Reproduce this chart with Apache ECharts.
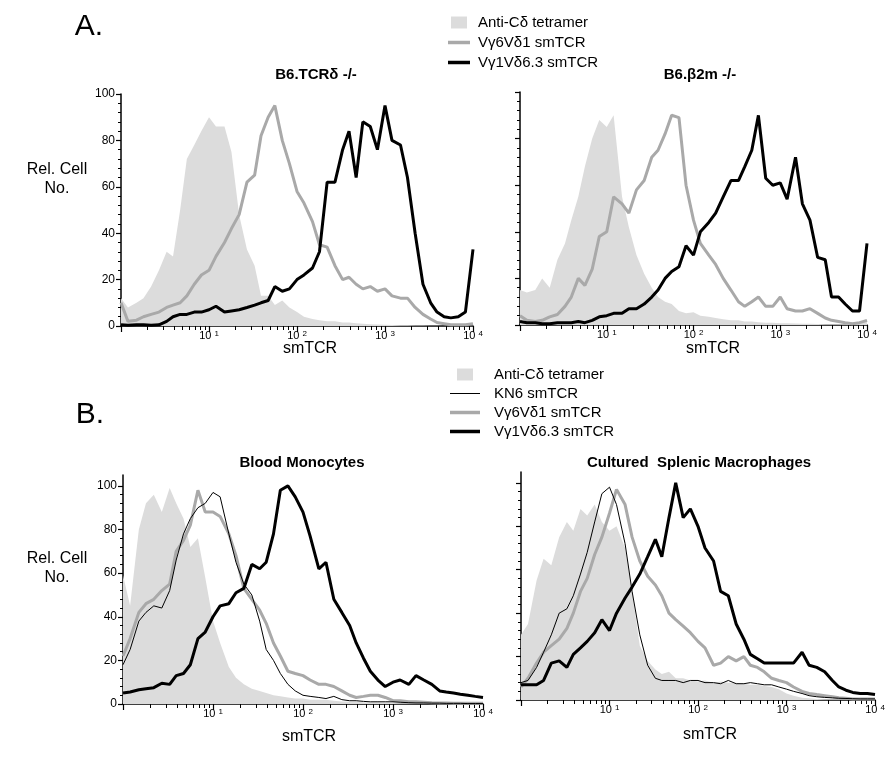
<!DOCTYPE html>
<html>
<head>
<meta charset="utf-8">
<script src="https://cdn.jsdelivr.net/npm/echarts@6/dist/echarts.min.js"></script>
<style>
  html, body { margin: 0; padding: 0; background: #fff; }
  #main { width: 896px; height: 764px; }
</style>
</head>
<body>
<div id="main"></div>
<script>
var myChart = echarts.init(document.getElementById('main'))
var font = 'Liberation Sans, Arial, Helvetica, sans-serif'

// fluorescence channels (smTCR intensity), shared by all histograms
var channels = [1, 1.2, 1.5, 1.8, 2.2, 2.7, 3.3, 3.9, 4.7, 5.6, 6.8, 8.2,
  10, 12, 15, 18, 22, 27, 33, 39, 47, 56, 68, 82,
  100, 120, 150, 180, 220, 270, 330, 390, 470, 560, 680, 820,
  1000, 1200, 1500, 1800, 2200, 2700, 3300, 3900, 4700, 5600, 6800, 8200, 10000]

var xMinorTicks = [2, 3, 4, 5, 6, 7, 8, 9, 20, 30, 40, 50, 60, 70, 80, 90,
  200, 300, 400, 500, 600, 700, 800, 900, 2000, 3000, 4000, 5000, 6000, 7000, 8000, 9000]
var yMajorTicks = [0, 20, 40, 60, 80, 100]
var yMinorTicks = [4, 8, 12, 16, 24, 28, 32, 36, 44, 48, 52, 56, 64, 68, 72, 76, 84, 88, 92, 96]

var TET = 'Anti-Cδ tetramer'
var KN6 = 'KN6 smTCR'
var V6 = 'Vγ6Vδ1 smTCR'
var V1 = 'Vγ1Vδ6.3 smTCR'

// A. B6.TCRδ -/-
var aTcrTetramer = [12, 8, 10, 12, 17, 24, 32, 30, 50, 72, 78, 84,
  90, 86, 86, 75, 48, 33, 26, 13, 13, 9, 11, 8,
  6, 4, 3, 2.5, 2, 2, 1.5, 1.5, 1.2, 1, 0.8, 0.6,
  0.5, 0.4, 0.3, 0.3, 0.2, 0.2, 0.1, 0.1, 0, 0, 0, 0, 0]
var aTcrV6 = [10, 2, 2.5, 4, 5, 6, 8, 9, 10, 13, 18, 22,
  24, 30, 36, 42, 48, 62, 65, 82, 90, 95, 80, 70,
  58, 53, 45, 35, 34, 26, 20, 21, 18, 16, 17, 15,
  16, 13, 12, 12, 8, 5, 3, 1.5, 1, 0.5, 0.5, 0.5, 1]
var aTcrV1 = [0.5, 0.3, 0.5, 0.5, 0.3, 0.5, 2, 4, 5, 5, 6, 6,
  7, 8.5, 6, 6.5, 7, 8, 9, 10, 11, 17, 15, 16,
  20, 22, 25, 32, 62, 62, 76, 84, 64, 88, 86, 76,
  95, 80, 78, 64, 40, 18, 10, 6, 4, 3.5, 4, 6, 33]

// A. B6.β2m -/-
var b2mTetramer = [15, 14, 15, 20, 16, 28, 35, 45, 55, 68, 80, 88,
  85, 90, 55, 42, 30, 22, 16, 12, 10, 9, 6, 5,
  5.5, 4, 3.5, 3, 2.5, 2, 2, 1.5, 1.5, 1.2, 1, 1,
  0.8, 0.7, 0.6, 0.5, 0.5, 0.4, 0.3, 0.3, 0.3, 0.3, 0.5, 1, 2]
var b2mV6 = [4, 2, 1.5, 2, 3.5, 4.5, 8, 12, 20, 17, 24, 38,
  40, 55, 52, 48, 58, 62, 72, 75, 82, 90, 89, 60,
  45, 35, 30, 26, 20, 15, 10, 8, 10, 12, 8, 8,
  12, 7, 6, 6, 7, 5, 3, 2, 1.5, 1, 0.5, 1, 2]
var b2mV1 = [1.5, 1, 1, 0.5, 0.5, 1, 1, 1, 1.5, 1, 2, 3.5,
  4, 5, 5, 7, 7, 9, 12, 15, 20, 23, 25, 34,
  30, 40, 44, 48, 55, 62, 62, 68, 75, 90, 63, 60,
  61, 54, 72, 52, 45, 29, 28, 12, 12, 9, 6, 6, 35]

// B. Blood Monocytes
var monoTetramer = [59, 45, 80, 92, 96, 88, 99, 92, 85, 72, 76, 58,
  38, 28, 17, 12, 9, 7, 6, 5, 4, 3.5, 3, 2.5,
  2.5, 2, 2, 2, 1.5, 1.2, 1, 1, 0.8, 0.7, 0.6, 0.5,
  0.5, 0.4, 0.3, 0.3, 0.3, 0.2, 0.2, 0.2, 0.1, 0.1, 0.1, 0, 0]
var monoKn6 = [18, 25, 38, 42, 45, 44, 52, 66, 78, 85, 90, 92,
  97, 95, 78, 65, 55, 50, 38, 25, 20, 14, 9, 6,
  4, 3.5, 3, 2.5, 3.5, 2, 1.5, 1.5, 1.2, 1, 1, 1,
  1, 0.8, 0.6, 0.5, 0.5, 0.4, 0.4, 0.3, 0.3, 0.3, 0.2, 0.2, 0.2]
var monoV6 = [22, 30, 42, 46, 48, 52, 55, 70, 75, 82, 98, 88,
  88, 86, 78, 68, 53, 48, 43, 37, 28, 22, 15, 14,
  13, 11, 9, 9, 8, 6, 4, 3, 3.5, 4, 4, 3,
  1.5, 1.5, 1, 1, 0.8, 0.6, 0.5, 0.5, 0.4, 0.3, 0.3, 0.3, 0.3]
var monoV1 = [5, 5.5, 6.5, 7, 7.5, 9.5, 9, 13, 14, 18, 30, 33,
  40, 45, 46, 51, 53, 64, 62, 65, 78, 98, 100, 95,
  88, 77, 62, 65, 48, 42, 36, 28, 21, 15, 11, 8,
  10, 11, 9, 13, 11, 9, 6, 5.5, 5, 4.5, 4, 3.5, 3]

// B. Cultured Splenic Macrophages
var macTetramer = [30, 35, 55, 65, 62, 75, 82, 78, 88, 85, 90, 82,
  78, 80, 70, 50, 25, 18, 14, 12, 13, 10, 10, 9,
  8.5, 9, 8, 8.5, 8, 8, 7.5, 7, 7, 6.5, 6, 5,
  3, 2, 1, 0.8, 0.5, 0.4, 0.3, 0.3, 0.2, 0.2, 0.2, 0.1, 0.1]
var macKn6 = [8, 9, 15, 22, 30, 40, 42, 48, 58, 68, 82, 95,
  98, 90, 72, 50, 30, 16, 10, 9, 9, 9, 8, 9,
  9, 8, 8, 7.5, 9, 7.5, 7.5, 8, 7.5, 7, 7, 6,
  5, 4, 3, 2, 1.5, 1.2, 1, 0.8, 0.7, 0.6, 0.5, 0.5, 0.5]
var macV6 = [6, 10, 17, 22, 25, 28, 33, 40, 50, 56, 67, 75,
  86, 97, 90, 75, 64, 57, 53, 48, 40, 37, 34, 31,
  27, 24, 16, 17, 20, 18, 20, 16, 15, 13, 10, 9,
  8, 6, 4, 3, 2.5, 2, 1.5, 1, 0.8, 0.5, 0.5, 0.5, 0.5]
var macV1 = [7, 7, 7, 9, 17, 18, 15, 21, 24, 27, 31, 37,
  32, 40, 47, 52, 58, 66, 74, 66, 84, 100, 84, 88,
  80, 70, 64, 50, 48, 35, 28, 21, 19, 17, 17, 17,
  17, 17, 22, 16, 15, 13, 9, 6, 4.5, 3.5, 3, 3, 2.5]

var panels = [
  { grid: { left: 121, top: 94, width: 352, height: 232 }, ymax: 100, labels: true,
    data: [[TET, aTcrTetramer], [V6, aTcrV6], [V1, aTcrV1]] },
  { grid: { left: 520, top: 92, width: 347, height: 233 }, ymax: 100, labels: false,
    data: [[TET, b2mTetramer], [V6, b2mV6], [V1, b2mV1]] },
  { grid: { left: 123, top: 475, width: 360, height: 229 }, ymax: 105, labels: true,
    data: [[TET, monoTetramer], [V6, monoV6], [KN6, monoKn6], [V1, monoV1]] },
  { grid: { left: 521, top: 472, width: 354, height: 228 }, ymax: 105, labels: false,
    data: [[TET, macTetramer], [V6, macV6], [KN6, macKn6], [V1, macV1]] },
]

var styles = {}
styles[TET] = { color: '#dcdcdc', width: 0, area: true }
styles[V6] = { color: '#a9a9a9', width: 3 }
styles[KN6] = { color: '#000', width: 1 }
styles[V1] = { color: '#000', width: 3 }

var grids = []
var xAxes = []
var yAxes = []
var series = []
var axisLineStyle = { color: '#000', width: 1.5 }

panels.forEach(function (p, i) {
  grids.push(Object.assign({ containLabel: false, outerBoundsMode: 'none' }, p.grid))
  // main log axis
  xAxes.push({
    type: 'log', logBase: 10, min: 1, max: 10000, gridIndex: i, position: 'bottom',
    axisLine: { show: true, onZero: false, lineStyle: axisLineStyle },
    axisTick: { show: true, length: 6, lineStyle: { color: '#000', width: 1.2 } },
    splitLine: { show: false },
    axisLabel: {
      margin: 4,
      formatter: function (v) {
        var e = Math.round(Math.log10(v))
        return e === 0 ? '' : '{b|10}{e|' + e + '}'
      },
      rich: {
        b: { fontSize: 11, fontFamily: font, color: '#000' },
        e: { fontSize: 8, fontFamily: font, color: '#000', verticalAlign: 'top', padding: [0, 0, 0, 3] },
      },
    },
  })
  // minor ticks at 2..9 of each decade
  xAxes.push({
    type: 'value', min: 0, max: 4, gridIndex: i, position: 'bottom',
    axisLine: { show: false, onZero: false },
    axisLabel: { show: false },
    splitLine: { show: false },
    axisTick: {
      show: true, length: 4, lineStyle: { color: '#000', width: 1 },
      customValues: xMinorTicks.map(function (v) { return Math.log10(v) }),
    },
  })
  yAxes.push({
    type: 'value', min: 0, max: p.ymax, interval: 20, gridIndex: i, position: 'left',
    axisLine: { show: true, onZero: false, lineStyle: axisLineStyle },
    axisTick: { show: true, length: 5, lineStyle: { color: '#000', width: 1.2 }, customValues: yMajorTicks },
    splitLine: { show: false },
    axisLabel: {
      show: p.labels, margin: 6, fontSize: 12, fontFamily: font, color: '#000',
      customValues: yMajorTicks,
    },
  })
  yAxes.push({
    type: 'value', min: 0, max: p.ymax, gridIndex: i, position: 'left',
    axisLine: { show: false, onZero: false },
    axisLabel: { show: false },
    splitLine: { show: false },
    axisTick: { show: true, length: 3, lineStyle: { color: '#000', width: 1 }, customValues: yMinorTicks },
  })
  p.data.forEach(function (d) {
    var st = styles[d[0]]
    series.push({
      name: d[0],
      type: 'line',
      xAxisIndex: i * 2,
      yAxisIndex: i * 2,
      data: channels.map(function (c, k) { return [c, d[1][k]] }),
      symbol: 'none',
      showSymbol: false,
      color: st.color,
      lineStyle: { color: st.color, width: st.width },
      areaStyle: st.area ? { color: st.color, opacity: 1 } : undefined,
      emphasis: { disabled: true },
      animation: false,
    })
  })
})

function txt(text, x, y, size, bold, lineHeight) {
  return {
    type: 'text', x: x, y: y, silent: true,
    style: {
      text: text, fill: '#000', align: 'center', verticalAlign: 'middle',
      font: (bold ? 'bold ' : '') + size + 'px ' + font,
      lineHeight: lineHeight || size + 2,
    },
  }
}

// legend entries: filled square for the tetramer, bars for the lines
function legendItems(w, names) {
  return names.map(function (n) {
    if (n === TET) return { name: n, icon: 'path://M0,0H16V12H0Z', itemStyle: { opacity: 1 } }
    var h = n === KN6 ? 1 : 3.5
    return {
      name: n,
      icon: 'path://M0,0H' + w + 'V' + h + 'H0Z',
      itemStyle: { opacity: 1 },
      lineStyle: { width: n === KN6 ? 1 : 3 },
    }
  })
}

var legendBase = {
  orient: 'vertical', padding: 0, selectedMode: false, itemHeight: 12,
  itemStyle: { opacity: 0 },
  textStyle: { fontFamily: font, fontSize: 15, color: '#000', padding: [0, 0, 0, 3] },
}

var option = {
  backgroundColor: '#fff',
  animation: false,
  grid: grids,
  xAxis: xAxes,
  yAxis: yAxes,
  legend: [
    Object.assign({}, legendBase, {
      left: 448, top: 15, itemWidth: 22, itemGap: 5,
      data: legendItems(22, [TET, V6, V1]),
    }),
    Object.assign({}, legendBase, {
      left: 450, top: 367, itemWidth: 30, itemGap: 4,
      textStyle: Object.assign({}, legendBase.textStyle, { padding: [0, 0, 0, 9] }),
      data: legendItems(30, [TET, KN6, V6, V1]),
    }),
  ],
  graphic: [
    txt('A.', 89, 27, 30, false),
    txt('B.', 90, 415, 30, false),
    txt('B6.TCRδ -/-', 316, 75, 15, true),
    txt('B6.β2m -/-', 700, 75, 15, true),
    txt('Blood Monocytes', 302, 463, 15, true),
    txt('Cultured  Splenic Macrophages', 699, 463, 15, true),
    txt('Rel. Cell\nNo.', 57, 179, 16, false, 19),
    txt('Rel. Cell\nNo.', 57, 568, 16, false, 19),
    txt('smTCR', 310, 349, 16, false),
    txt('smTCR', 713, 349, 16, false),
    txt('smTCR', 309, 737, 16, false),
    txt('smTCR', 710, 735, 16, false),
  ],
  series: series,
}

myChart.setOption(option)
</script>
</body>
</html>
